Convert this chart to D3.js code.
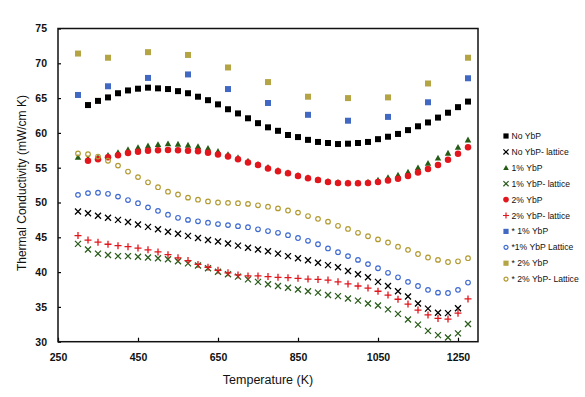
<!DOCTYPE html>
<html>
<head>
<meta charset="utf-8">
<script src="https://cdn.jsdelivr.net/npm/d3@7"></script>
<style>
  body { margin: 0; background: #fff; }
  svg { font-family: Arial, "Liberation Sans", sans-serif; }
</style>
</head>
<body>
<svg width="585" height="397"></svg>
<script>
// temperatures (K)
var tAll = [300, 325, 350, 375, 400, 425, 450, 475, 500, 525, 550, 575, 600, 625, 650, 675, 700, 725, 750, 775,
            800, 825, 850, 875, 900, 925, 950, 975, 1000, 1025, 1050, 1075, 1100, 1125, 1150, 1175, 1200, 1225, 1250, 1275];
var tFrom325 = tAll.slice(1);
var tUpTo1250 = tAll.slice(0, 39);
var tStar = [300, 375, 475, 575, 675, 775, 875, 975, 1075, 1175, 1275];

// thermal conductivity (mW/cm K)
var noYbP = [64.0, 64.6, 65.1, 65.7, 66.1, 66.35, 66.5, 66.4, 66.3, 66.0, 65.7, 65.2, 64.7, 64.1, 63.4, 62.8, 62.1, 61.4, 60.8, 60.3,
             59.7, 59.4, 59.0, 58.7, 58.55, 58.4, 58.45, 58.55, 58.7, 59.1, 59.45, 59.85, 60.4, 60.95, 61.5, 62.2, 62.9, 63.7, 64.5];
var noYbPLattice = [48.7, 48.45, 48.1, 47.8, 47.5, 47.2, 46.85, 46.5, 46.15, 45.8, 45.5, 45.2, 44.9, 44.6, 44.4, 44.1, 43.8, 43.5, 43.25, 43.0,
                    42.65, 42.3, 42.0, 41.7, 41.35, 41.0, 40.7, 40.15, 39.7, 39.25, 38.6, 38.0, 37.25, 36.5, 35.5, 34.75, 34.15, 34.1, 34.8];
var ybp1 = [56.5, 56.3, 56.45, 56.8, 57.2, 57.6, 57.9, 58.15, 58.35, 58.45, 58.4, 58.25, 58.05, 57.8, 57.35, 56.9, 56.45, 55.95, 55.5, 55.05,
            54.65, 54.3, 53.9, 53.6, 53.3, 53.05, 52.9, 52.85, 52.85, 52.95, 53.25, 53.6, 53.95, 54.4, 55.0, 55.65, 56.4, 57.1, 57.95, 59.0];
var ybp1Lattice = [44.05, 43.25, 42.65, 42.45, 42.3, 42.3, 42.2, 42.1, 42.0, 41.85, 41.55, 41.25, 40.95, 40.55, 40.05, 39.7, 39.35, 38.95, 38.6, 38.25,
                   38.0, 37.75, 37.5, 37.25, 37.05, 36.7, 36.55, 36.2, 35.9, 35.5, 35.2, 34.65, 34.0, 33.2, 32.45, 31.55, 30.95, 30.6, 31.2, 32.55];
var ybp2 = [56.0, 56.2, 56.5, 56.8, 57.1, 57.3, 57.45, 57.5, 57.55, 57.5, 57.45, 57.35, 57.15, 56.9, 56.6, 56.2, 55.75, 55.4, 54.9, 54.5,
            54.2, 53.8, 53.5, 53.25, 52.95, 52.8, 52.75, 52.75, 52.8, 52.95, 53.15, 53.4, 53.8, 54.3, 54.8, 55.4, 56.15, 57.0, 57.95];
var ybp2Lattice = [45.25, 44.6, 44.3, 44.0, 43.8, 43.65, 43.45, 43.2, 42.9, 42.5, 42.05, 41.65, 41.1, 40.7, 40.25, 39.9, 39.6, 39.45, 39.45, 39.35,
                   39.25, 39.2, 39.1, 39.0, 38.95, 38.85, 38.6, 38.3, 38.0, 37.7, 37.25, 36.7, 36.1, 35.4, 34.55, 33.85, 33.35, 33.25, 34.1, 36.15];
var star1 = [65.45, 66.7, 67.9, 68.4, 66.3, 64.3, 62.6, 61.75, 62.3, 64.4, 67.85];
var star1Lattice = [51.1, 51.35, 51.4, 51.25, 50.85, 50.35, 49.9, 49.3, 48.8, 48.25, 47.8, 47.5, 47.3, 47.1, 46.9, 46.75, 46.6, 46.45, 46.15, 45.9,
                    45.65, 45.3, 44.9, 44.5, 44.0, 43.4, 42.85, 42.3, 41.75, 41.15, 40.55, 39.9, 39.25, 38.6, 38.0, 37.45, 37.05, 37.0, 37.45, 38.5];
var star2 = [71.4, 70.8, 71.6, 71.2, 69.4, 67.3, 65.2, 65.0, 65.1, 67.1, 70.8];
var star2Lattice = [57.05, 56.95, 56.6, 56.0, 55.3, 54.45, 53.65, 52.9, 52.2, 51.55, 51.15, 50.7, 50.4, 50.15, 50.0, 49.95, 49.9, 49.8, 49.6, 49.4,
                    49.15, 48.85, 48.55, 48.05, 47.65, 47.25, 46.65, 46.2, 45.65, 45.15, 44.7, 44.25, 43.65, 43.2, 42.6, 42.1, 41.75, 41.45, 41.55, 42.0];

var xTicks = [250, 450, 650, 850, 1050, 1250];
var yTicks = [30, 35, 40, 45, 50, 55, 60, 65, 70, 75];

// Canvas
var svg = d3.select("svg"),
    margin = {top: 28.5, right: 107, bottom: 55.3, left: 58},
    width = +svg.attr("width") - margin.left - margin.right,
    height = +svg.attr("height") - margin.top - margin.bottom;

var x = d3.scaleLinear().domain([250, 1300]).range([0, width]),
    y = d3.scaleLinear().domain([30, 75]).range([height, 0]);

var g = svg.append("g")
    .attr("transform", "translate(" + margin.left + "," + margin.top + ")");

// marker shapes
var shapes = {
  square: {draw: function(c, s) { var r = Math.sqrt(s) / 2; c.rect(-r, -r, 2 * r, 2 * r); }},
  triangle: {draw: function(c, s) { var r = Math.sqrt(s) / 2; c.moveTo(0, -r); c.lineTo(r, r * 0.8); c.lineTo(-r, r * 0.8); c.closePath(); }},
  circle: {draw: function(c, s) { var r = Math.sqrt(s) / 2; c.moveTo(r, 0); c.arc(0, 0, r, 0, 2 * Math.PI); }},
  times: {draw: function(c, s) { var r = Math.sqrt(s) / 2; c.moveTo(-r, -r); c.lineTo(r, r); c.moveTo(r, -r); c.lineTo(-r, r); }},
  plus: {draw: function(c, s) { var r = Math.sqrt(s) / 2; c.moveTo(-r, 0); c.lineTo(r, 0); c.moveTo(0, -r); c.lineTo(0, r); }}
};

var series = [
  {name: "No YbP", t: tFrom325, v: noYbP, shape: "square", size: 6, fill: "#000", stroke: "none"},
  {name: "No YbP- lattice", t: tUpTo1250, v: noYbPLattice, shape: "times", size: 6, fill: "none", stroke: "#000"},
  {name: "1% YbP", t: tAll, v: ybp1, shape: "triangle", size: 6.5, fill: "#245c16", stroke: "none"},
  {name: "1% YbP- lattice", t: tAll, v: ybp1Lattice, shape: "times", size: 6, fill: "none", stroke: "#2b5c1c"},
  {name: "2% YbP", t: tFrom325, v: ybp2, shape: "circle", size: 6.5, fill: "#e3161d", stroke: "none"},
  {name: "2% YbP- lattice", t: tAll, v: ybp2Lattice, shape: "plus", size: 7, fill: "none", stroke: "#e3161d"},
  {name: "* 1% YbP", t: tStar, v: star1, shape: "square", size: 6, fill: "#4169c4", stroke: "none"},
  {name: "*1% YbP Lattice", t: tAll, v: star1Lattice, shape: "circle", size: 4.6, fill: "none", stroke: "#3f6ad0"},
  {name: "* 2% YbP", t: tStar, v: star2, shape: "square", size: 6, fill: "#b5a443", stroke: "none"},
  {name: "* 2% YbP- Lattice", t: tAll, v: star2Lattice, shape: "circle", size: 4.6, fill: "none", stroke: "#b39a30"}
];

// axes with inside ticks
g.append("g")
    .attr("transform", "translate(0," + height + ")")
    .call(d3.axisBottom(x).tickValues(xTicks).tickFormat(d3.format("d"))
      .tickSizeInner(-4).tickSizeOuter(0).tickPadding(12))
    .call(function(a) { a.select(".domain").remove(); })
    .selectAll("text").attr("font-size", 10.5).attr("font-weight", "bold").attr("fill", "#111");

g.append("g")
    .call(d3.axisLeft(y).tickValues(yTicks).tickSizeInner(-3).tickSizeOuter(0).tickPadding(11))
    .call(function(a) { a.select(".domain").remove(); })
    .selectAll("text").attr("font-size", 10.5).attr("font-weight", "bold").attr("fill", "#111");

g.selectAll(".tick line").attr("stroke", "#000").attr("stroke-width", 1.2);

// plot frame
g.append("rect")
    .attr("width", width)
    .attr("height", height)
    .attr("fill", "none")
    .attr("stroke", "#111")
    .attr("stroke-width", 1.5);

// axis titles
svg.append("text")
    .attr("transform", "translate(26," + (margin.top + height / 2 - 2) + ") rotate(-90)")
    .attr("text-anchor", "middle")
    .attr("font-size", 12)
    .attr("fill", "#111")
    .text("Thermal Conductivity (mW/cm K)");

svg.append("text")
    .attr("x", margin.left + width / 2)
    .attr("y", 384)
    .attr("text-anchor", "middle")
    .attr("font-size", 12.5)
    .attr("fill", "#111")
    .text("Temperature (K)");

// the points, series by series
series.forEach(function(s) {
  var sym = d3.symbol().type(shapes[s.shape]).size(s.size * s.size);
  g.append("g").selectAll("path")
    .data(s.v.map(function(d, i) { return {t: s.t[i], v: d}; }))
    .enter()
    .append("path")
      .attr("transform", function(d) { return "translate(" + x(d.t) + "," + y(d.v) + ")"; })
      .attr("d", sym)
      .attr("fill", s.fill)
      .attr("stroke", s.stroke)
      .attr("stroke-width", s.shape == "circle" ? 1.2 : 1.3);
});

// legend
var legend = svg.append("g").attr("transform", "translate(506,136)");
var item = legend.selectAll("g")
    .data(series)
    .enter()
    .append("g")
      .attr("transform", function(d, i) { return "translate(0," + (i * 15.9) + ")"; });

item.append("path")
    .attr("d", function(d) { return d3.symbol().type(shapes[d.shape]).size(d.size * d.size * 0.75)(); })
    .attr("fill", function(d) { return d.fill; })
    .attr("stroke", function(d) { return d.stroke; })
    .attr("stroke-width", 1.2);

item.append("text")
    .attr("x", 5.5)
    .attr("dy", "0.35em")
    .attr("font-size", 8.6)
    .attr("fill", "#111")
    .text(function(d) { return d.name; });
</script>
</body>
</html>
